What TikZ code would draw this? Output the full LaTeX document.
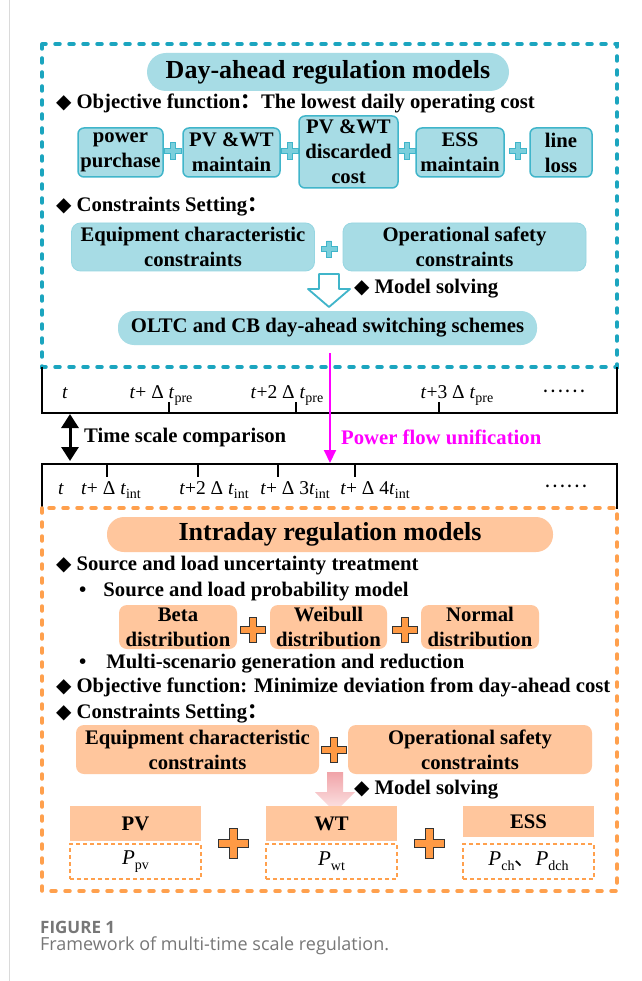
\documentclass[tikz,border=0pt]{standalone}
\usepackage{fontspec}
\usepackage{tikz}
\usetikzlibrary{arrows.meta,positioning,calc}
\setmainfont{Liberation Serif}
\newfontfamily\cjk{Noto Sans CJK SC}
\newfontfamily\sym{DejaVu Sans}
\newfontfamily\capfont{Open Sans}
\definecolor{bluefill}{HTML}{A7DCE5}
\definecolor{blueedge}{HTML}{40B5CA}
\definecolor{bluedash}{HTML}{1BA5BF}
\definecolor{bluecross}{HTML}{7ACFDC}
\definecolor{orfill}{HTML}{FFC69D}
\definecolor{ordash}{HTML}{FFA04D}
\definecolor{orcross}{HTML}{FF9A45}
\definecolor{pinktop}{HTML}{F0A3A8}
\definecolor{pinkbot}{HTML}{FDE8E8}
\definecolor{flowpink}{HTML}{FF00FF}
\definecolor{capgray}{HTML}{777777}
\definecolor{pagegray}{HTML}{DADADA}
\newcommand{\bodyfont}{\fontsize{20.7}{25}\selectfont\bfseries}
\newcommand{\titlefont}{\fontsize{26}{30}\selectfont\bfseries}
\newcommand{\tickfont}{\fontsize{19.5}{21}\selectfont}
\newcommand{\sbs}[1]{\raisebox{-0.25em}{\fontsize{14}{15}\selectfont #1}}
\newcommand{\dia}{{\sym\fontsize{20}{20}\selectfont ◆}\hspace{5pt}}
% plus sign: style, centre, half size, half arm
\newcommand{\crossat}[4]{%
  \begin{scope}[shift={#2}]
  \path[#1] (-#4,-#3) -- (#4,-#3) -- (#4,-#4) -- (#3,-#4) -- (#3,#4) -- (#4,#4)
    -- (#4,#3) -- (-#4,#3) -- (-#4,#4) -- (-#3,#4) -- (-#3,-#4) -- (-#4,-#4) -- cycle;
  \end{scope}}
\tikzstyle{zone}=[line width=3.5pt,dash pattern=on 5pt off 9pt,line cap=round]
\tikzstyle{pill}=[inner sep=0pt,font=\titlefont]
\tikzstyle{costbox}=[draw=blueedge,fill=bluefill,line width=1.5pt,rounded corners=6pt,align=center,inner sep=0pt,font=\bodyfont,minimum height=49pt]
\tikzstyle{bluecons}=[draw=blueedge!55,fill=bluefill,line width=0.8pt,rounded corners=9pt,align=center,inner sep=0pt,font=\bodyfont,minimum width=243pt,minimum height=48pt]
\tikzstyle{orbox}=[fill=orfill,rounded corners=8pt,align=center,inner sep=0pt,font=\bodyfont]
\tikzstyle{itemtxt}=[anchor=west,inner sep=0pt,font=\bodyfont,text height=14pt,text depth=4pt]
\tikzstyle{ticklab}=[anchor=base,inner sep=0pt,font=\tickfont]
\tikzstyle{hdbox}=[fill=orfill,inner sep=0pt,minimum width=131pt,minimum height=35pt,font=\bodyfont]
\tikzstyle{dotbox}=[draw=ordash,dash pattern=on 4pt off 3pt,line width=2pt,minimum width=131pt,minimum height=35pt,inner sep=0pt,font=\fontsize{21}{22}\selectfont]
\tikzstyle{bplus}=[fill=bluecross,draw=blueedge,line width=0.8pt]
\tikzstyle{oplus}=[fill=orcross,draw=black!80,line width=1pt]
\begin{document}
\begin{tikzpicture}[x=1pt,y=-1pt]
\fill[white] (0,0) rectangle (641,981);
\useasboundingbox (0,0) rectangle (641,981);
\draw[pagegray,line width=1pt] (9,0) -- (9,981);

% day-ahead part
\draw[zone,bluedash] (42,44) rectangle (617,367);
\node[pill,fill=bluefill,rounded corners=19pt,minimum width=362pt,minimum height=38pt] (dayTitle) at (328,72) {Day-ahead regulation models};
\node[itemtxt] (dayObj) at (56,104) {\dia Objective function{\cjk ：}The lowest daily operating cost};
\node[costbox,minimum width=85pt] (costBuy) at (120.5,152.5) {power\\purchase};
\node[costbox,minimum width=97pt] (costMaint) at (231.5,152.5) {PV \&WT\\maintain};
\node[costbox,minimum width=99pt,minimum height=72pt] (costCut) at (348.5,152) {PV \&WT\\discarded\\cost};
\node[costbox,minimum width=88pt] (costEss) at (460,152.5) {ESS\\maintain};
\node[costbox,minimum width=62pt] (costLoss) at (561,152.5) {line\\loss};
\crossat{bplus}{(173,151)}{8.5}{2.6}
\crossat{bplus}{(290,151)}{8.5}{2.6}
\crossat{bplus}{(407,151)}{8.5}{2.6}
\crossat{bplus}{(518,151)}{8.5}{2.6}
\node[itemtxt] (dayCons) at (56,207) {\dia Constraints Setting{\cjk ：}};
\node[bluecons] (dayEquip) at (193,247) {Equipment characteristic\\constraints};
\node[bluecons] (daySafe) at (464.5,247) {Operational safety\\constraints};
\crossat{bplus}{(329,249)}{8}{2.5}
\draw[blueedge,fill=white,line width=1.8pt,line join=round] (319,274) -- (339,274) -- (339,289) -- (350,289) -- (329,307) -- (308,289) -- (319,289) -- cycle;
\node[itemtxt] (daySolve) at (354,288) {\dia Model solving};
\node[pill,fill=bluefill,rounded corners=16pt,minimum width=419pt,minimum height=34pt,font=\bodyfont] (oltc) at (327.5,328) {OLTC and CB day-ahead switching schemes};

% time scales
\draw[line width=2.2pt] (42,367) -- (42,413) -- (617,413) -- (617,367);
\foreach \tx in {169,296,439} \draw[line width=2pt] (\tx,402) -- (\tx,413);
\node[ticklab] (preA) at (65,398) {\textit{t}};
\node[ticklab] (preB) at (161,398) {\textit{t}+ Δ \textit{t}\sbs{pre}};
\node[ticklab] (preC) at (287,398) {\textit{t}+2 Δ \textit{t}\sbs{pre}};
\node[ticklab] (preD) at (457,398) {\textit{t}+3 Δ \textit{t}\sbs{pre}};
\node[inner sep=0pt,font=\cjk\fontsize{20}{20}\selectfont] (preDots) at (564,391) {……};
\draw[line width=2.2pt] (42,509) -- (42,464) -- (617,464) -- (617,509);
\foreach \tx in {107,198,278,355} \draw[line width=2pt] (\tx,464) -- (\tx,477);
\node[ticklab] (intA) at (61,494) {\textit{t}};
\node[ticklab] (intB) at (111,494) {\textit{t}+ Δ \textit{t}\sbs{int}};
\node[ticklab] (intC) at (214,494) {\textit{t}+2 Δ \textit{t}\sbs{int}};
\node[ticklab] (intD) at (295,494) {\textit{t}+ Δ 3\textit{t}\sbs{int}};
\node[ticklab] (intE) at (375,494) {\textit{t}+ Δ 4\textit{t}\sbs{int}};
\node[inner sep=0pt,font=\cjk\fontsize{20}{20}\selectfont] (intDots) at (566,486) {……};
\coordinate (preLine) at (70,414);
\coordinate (intLine) at (70,461);
\draw[line width=3pt,{Triangle[length=14pt,width=17pt]}-{Triangle[length=14pt,width=17pt]}] (preLine) -- (intLine);
\node[itemtxt] (scaleTxt) at (84,437) {Time scale comparison};
\coordinate (flowTop) at (330,353);
\coordinate (flowEnd) at (330,463);
\draw[flowpink,line width=2pt,-{Triangle[length=13pt,width=12pt]}] (flowTop) -- (flowEnd);
\node[itemtxt,text=flowpink] (flowTxt) at (341,439) {Power flow unification};

% intraday part
\draw[zone,ordash] (42,508) rectangle (617,891);
\node[pill,fill=orfill,rounded corners=17pt,minimum width=446pt,minimum height=35pt] (intraTitle) at (330,534.5) {Intraday regulation models};
\node[itemtxt] (intraSrc) at (56,565) {\dia Source and load uncertainty treatment};
\node[itemtxt] (intraProb) at (79,591) {•\hspace{17pt}Source and load probability model};
\node[orbox,minimum width=118pt,minimum height=44pt] (distBeta) at (178,627) {Beta\\distribution};
\node[orbox,minimum width=117pt,minimum height=44pt] (distWei) at (328.5,627) {Weibull\\distribution};
\node[orbox,minimum width=118pt,minimum height=44pt] (distNorm) at (480,627) {Normal\\distribution};
\crossat{oplus}{(253,630)}{12.5}{3.5}
\crossat{oplus}{(405,630)}{12.5}{3.5}
\node[itemtxt] (intraScen) at (79,663) {•\hspace{20pt}Multi-scenario generation and reduction};
\node[itemtxt] (intraObj) at (56,687) {\dia Objective function: Minimize deviation from day-ahead cost};
\node[itemtxt] (intraCons) at (56,713) {\dia Constraints Setting{\cjk ：}};
\node[orbox,minimum width=243pt,minimum height=49pt] (intraEquip) at (197.5,749.5) {Equipment characteristic\\constraints};
\node[orbox,minimum width=244pt,minimum height=49pt] (intraSafe) at (470,749.5) {Operational safety\\constraints};
\crossat{oplus}{(334,750)}{12.5}{3.5}
\shade[top color=pinktop,bottom color=pinkbot] (327,772) -- (343,772) -- (343,792) -- (355,792) -- (335,812) -- (315,792) -- (327,792) -- cycle;
\node[itemtxt] (intraSolve) at (354,789) {\dia Model solving};
\node[hdbox] (hdPV) at (135.5,823.5) {PV};
\node[hdbox] (hdWT) at (331.5,823.5) {WT};
\node[hdbox,minimum height=31pt] (hdESS) at (528.5,821.5) {ESS};
\node[dotbox] (valPV) at (135.5,861.5) {\textit{P}\sbs{pv}};
\node[dotbox] (valWT) at (331.5,861.5) {\textit{P}\sbs{wt}};
\node[dotbox] (valESS) at (528.5,861.5) {\textit{P}\sbs{ch}{\cjk 、}\textit{P}\sbs{dch}};
\crossat{oplus}{(233,843)}{15}{4}
\crossat{oplus}{(429,843)}{15}{4}

% caption
\node[anchor=west,inner sep=0pt,text=capgray,font=\capfont\bfseries\fontsize{17}{18}\selectfont] (figNo) at (40,927) {FIGURE 1};
\node[anchor=west,inner sep=0pt,text=capgray,font=\capfont\fontsize{18}{20}\selectfont] (figCap) at (40,946) {Framework of multi-time scale regulation.};
\end{tikzpicture}
\end{document}
